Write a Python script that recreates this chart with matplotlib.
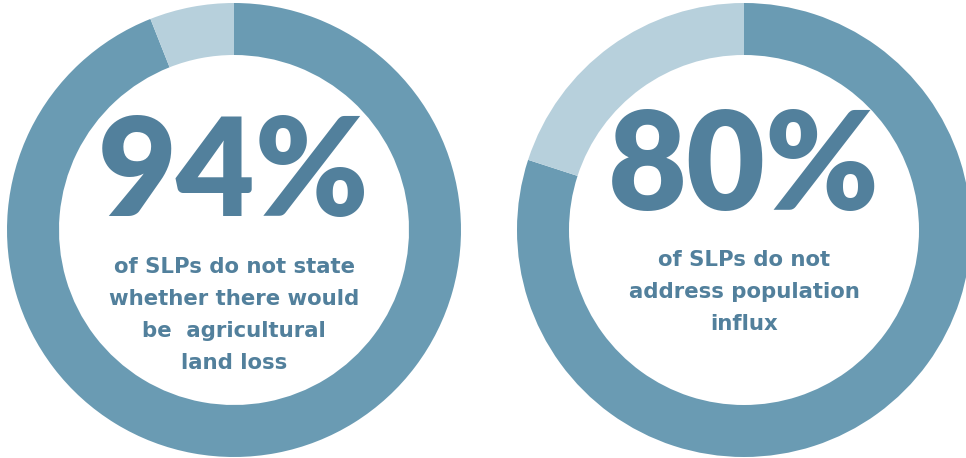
import matplotlib
matplotlib.use("Agg")
import matplotlib.pyplot as plt

# Share of SLPs in each statistic
percentages = [94, 80]
captions = [
    "of SLPs do not state\nwhether there would\nbe  agricultural\nland loss",
    "of SLPs do not\naddress population\ninflux",
]

DARK = "#6A9BB3"
LIGHT = "#B7D0DC"
TEXT = "#52809C"
NUM_FONT = "Lato"
CAP_FONT = "DejaVu Sans"

W, H = 966, 458
fig = plt.figure(figsize=(W / 100, H / 100), dpi=100)
ax = fig.add_axes([0, 0, 1, 1])

# ring centres, big-number and caption vertical positions (pixels from top)
centers_px = [(234, 230), (744, 230)]
number_y_px = [176, 170]
caption_y_px = [315, 292]
outer_r = 227
ring_w = 52

for pct, cap, (cx, cy), ny, cpy in zip(percentages, captions, centers_px,
                                       number_y_px, caption_y_px):
    ax.pie([pct, 100 - pct], colors=[DARK, LIGHT], startangle=90,
           counterclock=False, center=(cx, H - cy), radius=outer_r,
           wedgeprops=dict(width=ring_w, linewidth=0))
    ax.text(cx, H - ny, f"{pct}%", ha="center", va="center",
            fontsize=98, fontweight="heavy", color=TEXT, family=NUM_FONT)
    ax.text(cx, H - cpy, cap, ha="center", va="center", fontsize=15.3,
            fontweight="bold", color=TEXT, family=CAP_FONT, linespacing=1.75)

ax.set_xlim(0, W)
ax.set_ylim(0, H)
ax.set_aspect("equal")
ax.axis("off")
fig.savefig("out.png", dpi=100, facecolor="white")
